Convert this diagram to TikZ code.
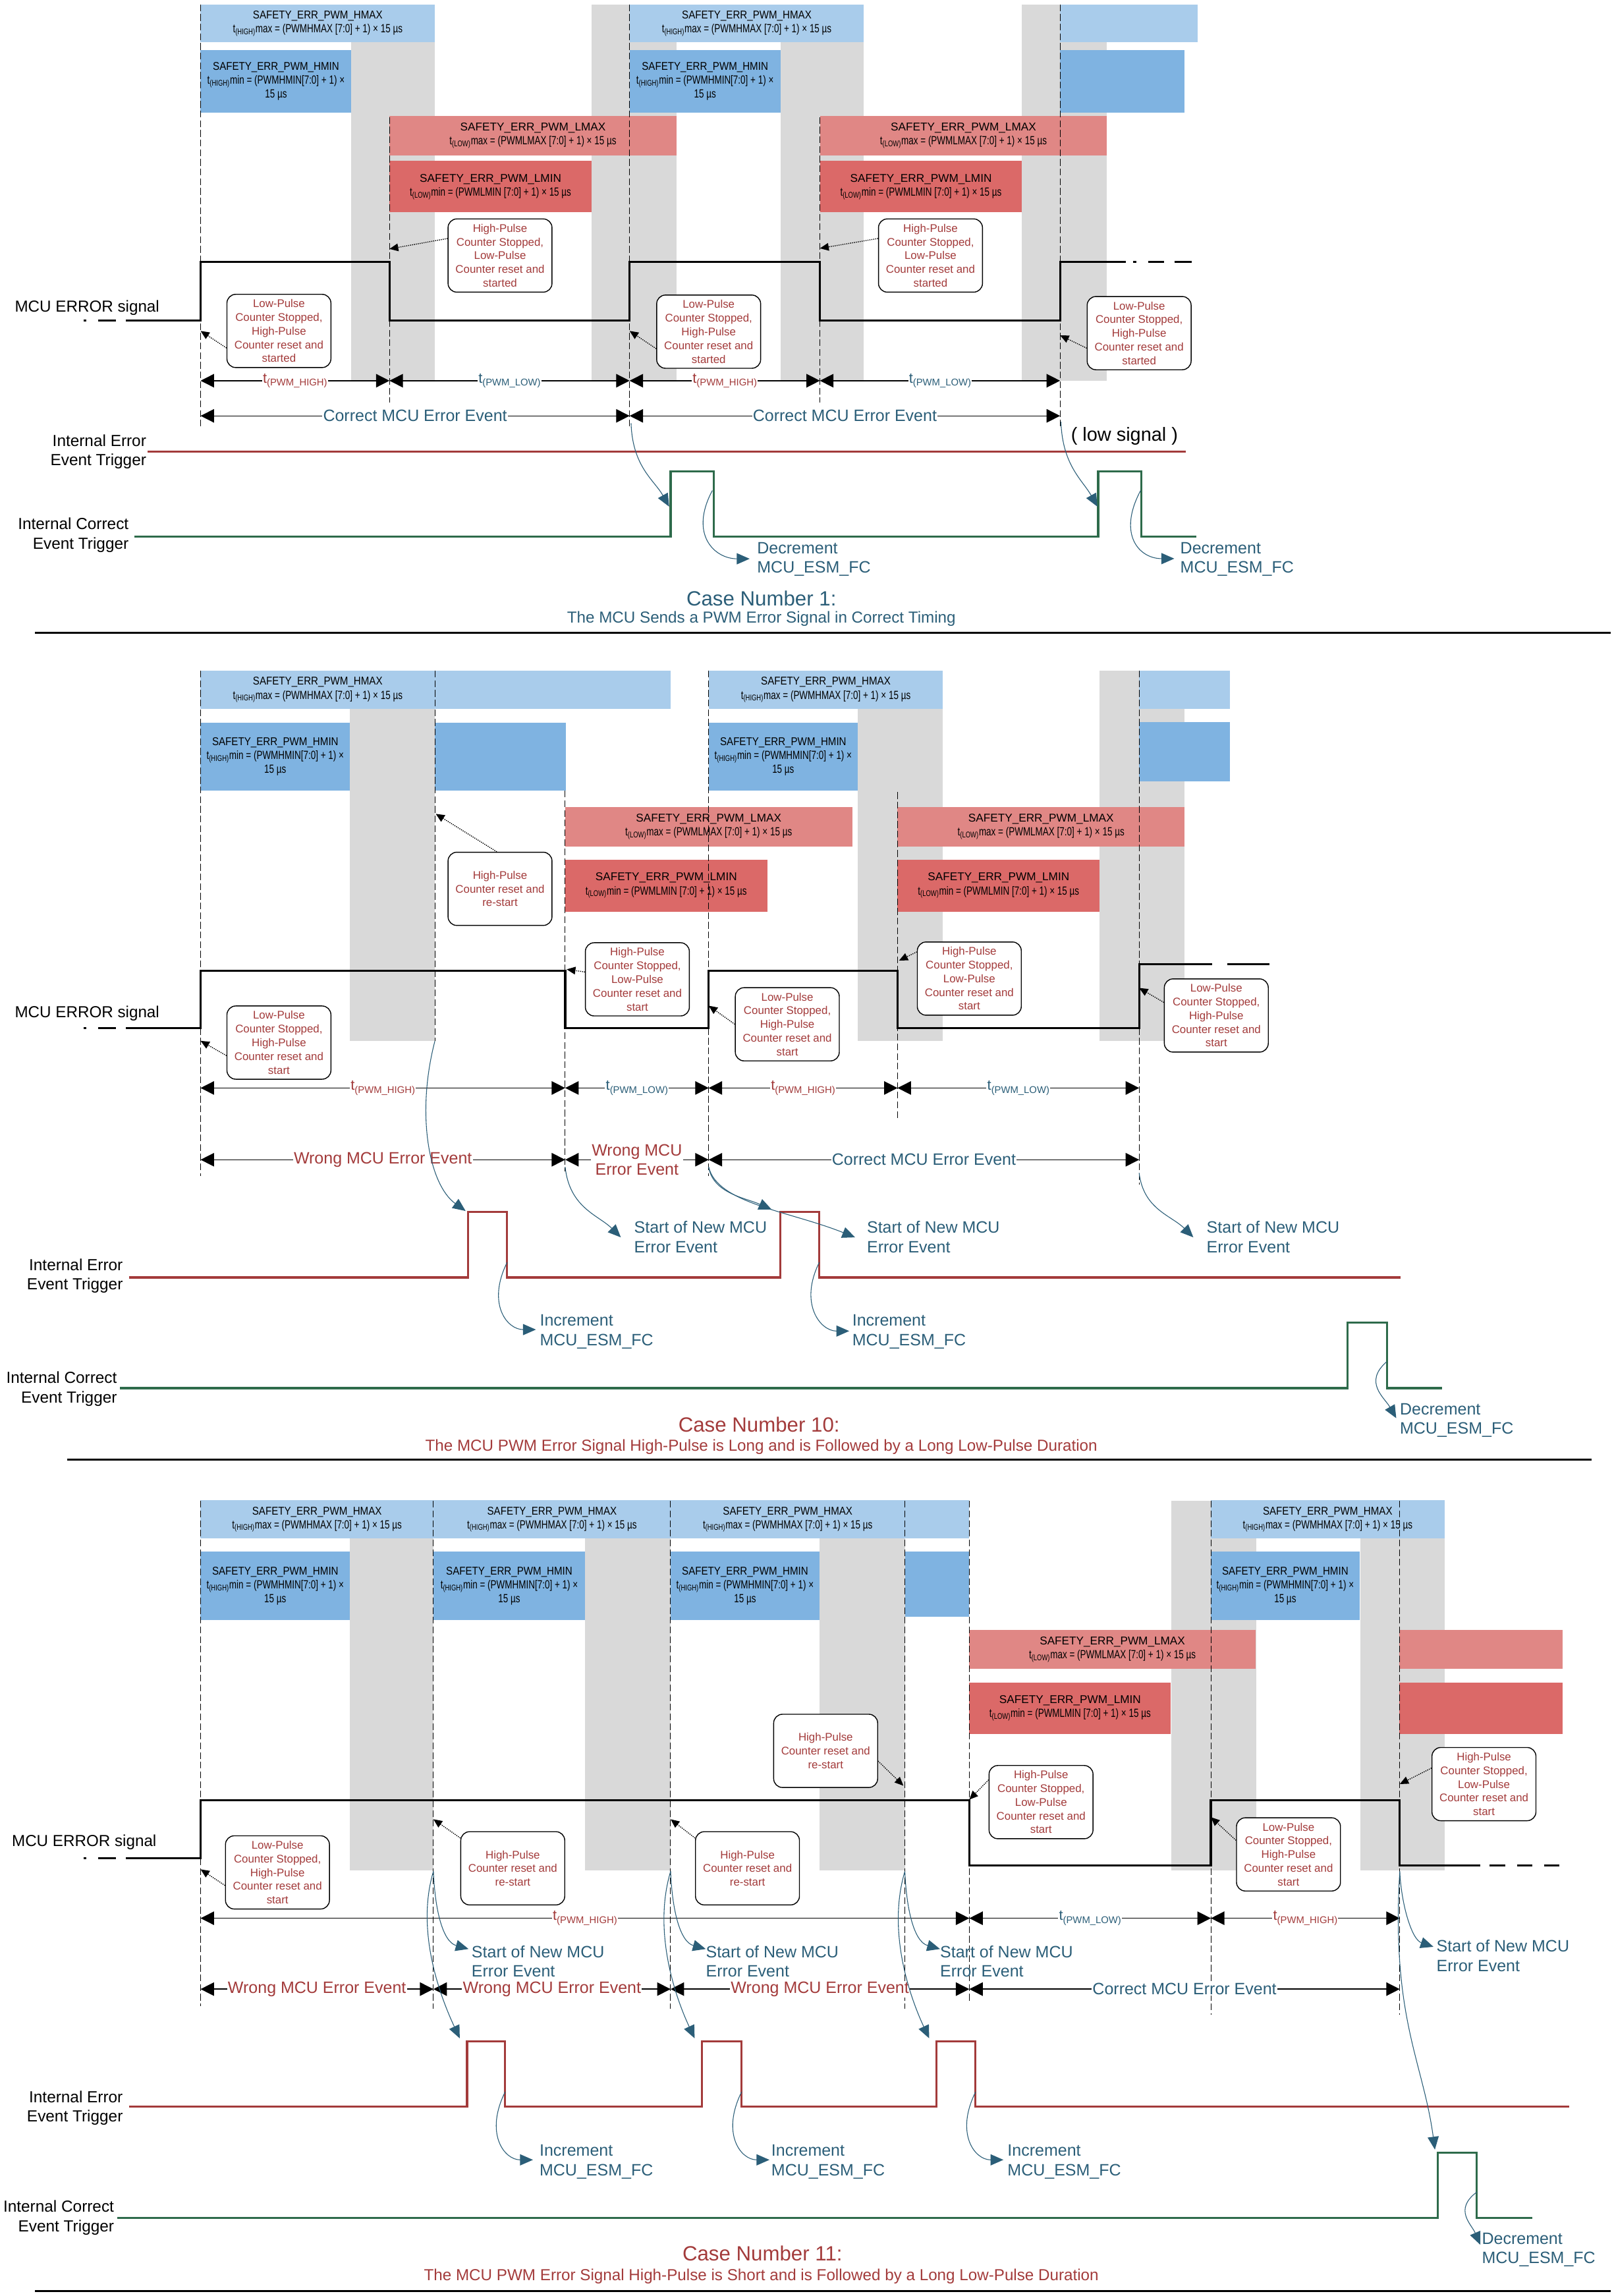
\documentclass[tikz,border=0pt]{standalone}
\usepackage{fontspec}
\setmainfont{Liberation Sans}
\newfontfamily\nrwfont{Liberation Sans}[FakeStretch=0.88]
\newfontfamily\cndfont{Liberation Sans}[FakeStretch=0.75]
\usetikzlibrary{arrows.meta}

\definecolor{hmaxc}{HTML}{A9CCEB}
\definecolor{hminc}{HTML}{7FB3E1}
\definecolor{lmaxc}{HTML}{E08785}
\definecolor{lminc}{HTML}{DB6968}
\definecolor{bandc}{HTML}{D9D9D9}
\definecolor{errc}{HTML}{A33B3B}
\definecolor{okc}{HTML}{2B5E78}
\definecolor{trigc}{HTML}{2E6B4B}

% register boxes: style, x1, y1, x2, y2, name, text
\newcommand\regbox[7]{\node[#1, minimum width={(#4-#2)*0.5mm}, minimum height={(#5-#3)*0.5mm}] (#6) at ({(#2+#4)/2},{(#3+#5)/2}) {#7};}
\newcommand\spanar[6]{\coordinate (#6a) at (#2,#1); \coordinate (#6b) at (#3,#1);
  \draw[dimar] (#6a) -- (#6b) node[dimlbl, text=#4, midway] (#6) {#5};}

\newcommand\hmaxtxt{{\nrwfont SAFETY\_ERR\_PWM\_HMAX}\\{\cndfont\fontsize{11.5}{13.5}\selectfont t\textsubscript{(HIGH)}max = (PWMHMAX [7:0] + 1) × 15 µs}}
\newcommand\hmintxt{{\nrwfont SAFETY\_ERR\_PWM\_HMIN}\\{\cndfont\fontsize{11.5}{13.5}\selectfont t\textsubscript{(HIGH)}min = (PWMHMIN[7:0] + 1) ×}\\{\cndfont\fontsize{11.5}{13.5}\selectfont 15 µs}}
\newcommand\lmaxtxt{SAFETY\_ERR\_PWM\_LMAX\\{\cndfont\fontsize{11.5}{13.5}\selectfont t\textsubscript{(LOW)}max = (PWMLMAX [7:0] + 1) × 15 µs}}
\newcommand\lmintxt{SAFETY\_ERR\_PWM\_LMIN\\{\cndfont\fontsize{11.5}{13.5}\selectfont t\textsubscript{(LOW)}min = (PWMLMIN [7:0] + 1) × 15 µs}}
\newcommand\lpcall[1]{Low-Pulse\\Counter Stopped,\\High-Pulse\\Counter reset and\\#1}
\newcommand\hpcall[1]{High-Pulse\\Counter Stopped,\\Low-Pulse\\Counter reset and\\#1}
\newcommand\rscall{High-Pulse\\Counter reset and\\re-start}
\newcommand\tpwm[1]{{\fontsize{14}{14}\selectfont t}\raisebox{-0.35ex}{\fontsize{9.5}{10}\selectfont (PWM\_#1)}}

\begin{document}
\begin{tikzpicture}[x=0.5mm,y=-0.5mm,
 hmx/.style={fill=hmaxc,inner sep=0pt,outer sep=0pt,align=center,font=\fontsize{11}{13.5}\selectfont},
 hmn/.style={hmx,fill=hminc},
 lmx/.style={hmx,fill=lmaxc},
 lmn/.style={hmx,fill=lminc},
 band/.style={fill=bandc},
 tmark/.style={line width=0.7pt,dash pattern=on 2.3mm off 1mm},
 sig/.style={line width=2.1pt},
 errline/.style={errc,line width=2pt},
 okline/.style={trigc,line width=2pt},
 call/.style={draw,line width=0.9pt,rounded corners=3mm,fill=white,text=errc,align=center,
   minimum width=35.5mm,minimum height=25mm,inner sep=1pt,font=\fontsize{10.8}{13.3}\selectfont},
 callar/.style={densely dotted,line width=0.9pt,-{Triangle[length=3mm,width=2.6mm]}},
 dimar/.style={line width=0.9pt,{Triangle[length=4.6mm,width=4.6mm]}-{Triangle[length=4.6mm,width=4.6mm]}},
 dimlbl/.style={fill=white,inner sep=0.8pt,align=center,font=\fontsize{16}{18.5}\selectfont},
 evar/.style={okc,line width=0.7pt,-{Triangle[length=4.4mm,width=3.8mm]}},
 evtxt/.style={okc,align=left,anchor=west,inner sep=0pt,font=\fontsize{16}{19}\selectfont},
 sidelbl/.style={align=right,anchor=east,inner sep=0pt,font=\fontsize{15.6}{18.8}\selectfont},
 caption/.style={font=\fontsize{20}{24}\selectfont},
 subcap/.style={font=\fontsize{15.5}{18}\selectfont},
 sepline/.style={line width=2pt}]
\useasboundingbox (0,0) rectangle (1102,1568);

% grey windows
\foreach \a/\b/\t/\u in {240/297/3/260, 404/462/3/260, 533/590/3/260, 698/756/3/260,
  239/297/458/711, 586/644/458/711, 751/809/458/711,
  239/296/1025/1277.5, 399.6/458/1025/1277.5, 559.7/618/1025/1277.5, 800/858/1025/1277.5, 929/986.5/1025/1277.5}
  \fill[band] (\a,\t) rectangle (\b,\u);

% ---------------- case 1 ----------------
\regbox{hmx}{137}{3}{297}{29}{b1hx}{\hmaxtxt}
\regbox{hmn}{137}{34}{240}{77}{b1hn}{\hmintxt}
\regbox{lmx}{266}{79}{462}{106}{b1lx}{\lmaxtxt}
\regbox{lmn}{266}{110}{404}{145}{b1ln}{\lmintxt}
\regbox{hmx}{430}{3}{590}{29}{b2hx}{\hmaxtxt}
\regbox{hmn}{430}{34}{533}{77}{b2hn}{\hmintxt}
\regbox{lmx}{560}{79}{756}{106}{b2lx}{\lmaxtxt}
\regbox{lmn}{560}{110}{698}{145}{b2ln}{\lmintxt}
\regbox{hmx}{724}{3}{818}{29}{b3hx}{}
\regbox{hmn}{724}{34}{809}{77}{b3hn}{}

\foreach \x/\t/\u in {137/3/291, 266/80/275, 430/3/291, 560/80/275, 724/3/291}
  \draw[tmark] (\x,\t) -- (\x,\u);

\draw[sig,dash pattern=on 1mm off 4mm on 6mm off 3.5mm] (57,219) -- (86,219);
\draw[sig] (86,219) -- (137,219) -- (137,179) -- (266,179) -- (266,219) -- (430,219) -- (430,179)
  -- (560,179) -- (560,219) -- (724,219) -- (724,179) -- (769,179);
\draw[sig,dash pattern=on 1mm off 4mm on 5.5mm off 3.5mm on 6mm off 10mm] (774,179) -- (814,179);

\draw[errline] (101,308.5) -- (810,308.5);
\draw[okline] (92,366.5) -- (458,366.5) -- (458,322) -- (487.6,322) -- (487.6,366.5) -- (750,366.5)
  -- (750,322) -- (779.6,322) -- (779.6,366.5) -- (817,366.5);

\spanar{260}{137}{266}{errc}{\tpwm{HIGH}}{t1a}
\spanar{260}{266}{430}{okc}{\tpwm{LOW}}{t1b}
\spanar{260}{430}{560}{errc}{\tpwm{HIGH}}{t1c}
\spanar{260}{560}{724}{okc}{\tpwm{LOW}}{t1d}
\spanar{284}{137}{430}{okc}{Correct MCU Error Event}{v1a}
\spanar{284}{430}{724}{okc}{Correct MCU Error Event}{v1b}

\node[call] (c1a) at (190.5,226) {\lpcall{started}};
\node[call] (c1b) at (341.5,174.5) {\hpcall{started}};
\node[call] (c1c) at (484,226.5) {\lpcall{started}};
\node[call] (c1d) at (635.5,174.5) {\hpcall{started}};
\node[call] (c1e) at (778,227.5) {\lpcall{started}};
\coordinate (k1a) at (137,226); \coordinate (k1b) at (266,170); \coordinate (k1c) at (430,226);
\coordinate (k1d) at (560,169.6); \coordinate (k1e) at (724,229);
\draw[callar] (c1a.198) -- (k1a);
\draw[callar] (c1b.162) -- (k1b);
\draw[callar] (c1c.198) -- (k1c);
\draw[callar] (c1d.162) -- (k1d);
\draw[callar] (c1e.196) -- (k1e);

\node[anchor=west,inner sep=0pt,font=\fontsize{15.5}{18}\selectfont] (m1) at (10,210) {MCU ERROR signal};
\node[sidelbl] (ie1) at (100,308.5) {Internal Error\\Event Trigger};
\node[sidelbl] (ic1) at (88,365.5) {Internal Correct\\Event Trigger};
\node[inner sep=0pt,font=\fontsize{18.5}{20}\selectfont] (low1) at (768,298) {( low signal )};
\node[evtxt] (d1a) at (517,382) {Decrement\\MCU\_ESM\_FC};
\node[evtxt] (d1b) at (806,382) {Decrement\\MCU\_ESM\_FC};

\coordinate (s1a) at (431,289); \coordinate (p1a) at (457,346);
\coordinate (s1b) at (724.6,288); \coordinate (p1b) at (749.5,346);
\coordinate (f1a) at (486.5,335); \coordinate (q1a) at (512,381.6);
\coordinate (f1b) at (779,335); \coordinate (q1b) at (802,381.5);
\draw[evar] (s1a) .. controls +(1,30) and +(-10,-18) .. (p1a);
\draw[evar] (s1b) .. controls +(1,30) and +(-10,-18) .. (p1b);
\draw[evar] (f1a) .. controls +(-16,30) and +(-24,0) .. (q1a);
\draw[evar] (f1b) .. controls +(-16,30) and +(-24,0) .. (q1b);

\node[caption,text=okc] (h1) at (520,408.5) {Case Number 1:};
\node[subcap,text=okc] (sh1) at (520,422.5) {The MCU Sends a PWM Error Signal in Correct Timing};
\draw[sepline] (24,432) -- (1100,432);

% ---------------- case 10 ----------------
\regbox{hmx}{137}{458}{297}{484.3}{b4hx}{\hmaxtxt}
\regbox{hmx}{297}{458}{458}{484.3}{b4hc}{}
\regbox{hmn}{137}{493.5}{239}{540}{b4hn}{\hmintxt}
\regbox{hmn}{297}{493.5}{386.7}{540}{b4nc}{}
\regbox{lmx}{386}{551}{582}{578}{b4lx}{\lmaxtxt}
\regbox{lmn}{386}{587}{524}{622.6}{b4ln}{\lmintxt}
\regbox{hmx}{484}{458}{644}{484.3}{b5hx}{\hmaxtxt}
\regbox{hmn}{484}{493.5}{585.8}{540}{b5hn}{\hmintxt}
\regbox{lmx}{613}{551}{809}{578}{b5lx}{\lmaxtxt}
\regbox{lmn}{613}{587}{751}{622.6}{b5ln}{\lmintxt}
\regbox{hmx}{778}{458}{840}{484.3}{b6hx}{}
\regbox{hmn}{778}{493}{840}{533.7}{b6hn}{}

\foreach \x/\t/\u in {137/458/803, 297/458/711, 386/540/800, 484/458/803, 613/541/764, 778/458/809}
  \draw[tmark] (\x,\t) -- (\x,\u);

\draw[sig,dash pattern=on 1mm off 4mm on 6mm off 3.5mm] (57,702) -- (86,702);
\draw[sig] (86,702) -- (137,702) -- (137,663) -- (386,663) -- (386,702) -- (484,702) -- (484,663)
  -- (613,663) -- (613,702) -- (778,702) -- (778,658.6) -- (828,658.6);
\draw[sig] (838,658.6) -- (867,658.6);

\draw[errline] (88,872.4) -- (319.6,872.4) -- (319.6,827.6) -- (346.4,827.6) -- (346.4,872.4)
  -- (532.8,872.4) -- (532.8,827.6) -- (559.6,827.6) -- (559.6,872.4) -- (956.5,872.4);
\draw[okline] (82,948) -- (920.4,948) -- (920.4,903.3) -- (947.2,903.3) -- (947.2,948) -- (985,948);

\spanar{743}{137}{386}{errc}{\tpwm{HIGH}}{t4a}
\spanar{743}{386}{484}{okc}{\tpwm{LOW}}{t4b}
\spanar{743}{484}{613}{errc}{\tpwm{HIGH}}{t4c}
\spanar{743}{613}{778}{okc}{\tpwm{LOW}}{t4d}
\spanar{792}{137}{386}{errc}{Wrong MCU Error Event}{v4a}
\spanar{792}{386}{484}{errc}{Wrong MCU\\Error Event}{v4b}
\spanar{792}{484}{778}{okc}{Correct MCU Error Event}{v4c}

\node[call] (c4a) at (190.5,712) {\lpcall{start}};
\node[call] (c4b) at (341.5,607) {\rscall};
\node[call] (c4c) at (435.3,668.8) {\hpcall{start}};
\node[call] (c4d) at (537.7,699.5) {\lpcall{start}};
\node[call] (c4e) at (662,668.3) {\hpcall{start}};
\node[call] (c4f) at (830.7,693.5) {\lpcall{start}};
\coordinate (k4a) at (137,710.8); \coordinate (k4b) at (297.6,555.8); \coordinate (k4c) at (387,662);
\coordinate (k4d) at (484,686.8); \coordinate (k4e) at (614,656); \coordinate (k4f) at (778,674.7);
\draw[callar] (c4a.194) -- (k4a);
\draw[callar] (c4b.95) -- (k4b);
\draw[callar] (c4c.172) -- (k4c);
\draw[callar] (c4d.180) -- (k4d);
\draw[callar] (c4e.153) -- (k4e);
\draw[callar] (c4f.166) -- (k4f);

\node[anchor=west,inner sep=0pt,font=\fontsize{15.5}{18}\selectfont] (m4) at (10,692) {MCU ERROR signal};
\node[sidelbl] (ie4) at (84,871.5) {Internal Error\\Event Trigger};
\node[sidelbl] (ic4) at (80,948.5) {Internal Correct\\Event Trigger};
\node[evtxt] (n4a) at (433,844.7) {Start of New MCU\\Error Event};
\node[evtxt] (n4b) at (592,844.7) {Start of New MCU\\Error Event};
\node[evtxt] (n4c) at (824,844.7) {Start of New MCU\\Error Event};
\node[evtxt] (i4a) at (368.6,909.5) {Increment\\MCU\_ESM\_FC};
\node[evtxt] (i4b) at (582,909.5) {Increment\\MCU\_ESM\_FC};
\node[evtxt] (d4a) at (956,970) {Decrement\\MCU\_ESM\_FC};

\coordinate (s4a) at (297,711); \coordinate (p4a) at (318,827);
\coordinate (f4a) at (346.4,862); \coordinate (q4a) at (366,908);
\coordinate (s4b) at (386,797); \coordinate (r4a) at (424,845);
\coordinate (s4c) at (484,797); \coordinate (p4b) at (527,826); \coordinate (r4b) at (584,845);
\coordinate (f4b) at (559.6,862); \coordinate (q4b) at (580,909);
\coordinate (s4d) at (778,801); \coordinate (r4c) at (815,845);
\coordinate (f4c) at (947,930); \coordinate (q4c) at (953.6,968.5);
\draw[evar] (s4a) .. controls +(-13,50) and +(-25,-18) .. (p4a);
\draw[evar] (f4a) .. controls +(-14,28) and +(-20,0) .. (q4a);
\draw[evar] (s4b) .. controls +(3,28) and +(-15,-15) .. (r4a);
\draw[evar] (s4c) .. controls +(3,18) and +(-18,-8) .. (p4b);
\draw[evar] (s4c) .. controls +(6,25) and +(-45,-18) .. (r4b);
\draw[evar] (f4b) .. controls +(-14,28) and +(-20,0) .. (q4b);
\draw[evar] (s4d) .. controls +(3,25) and +(-15,-15) .. (r4c);
\draw[evar] (f4c) .. controls +(-16,14) and +(-8,-14) .. (q4c);

\node[caption,text=errc] (h4) at (518.4,973) {Case Number 10:};
\node[subcap,text=errc] (sh4) at (520,988) {The MCU PWM Error Signal High-Pulse is Long and is Followed by a Long Low-Pulse Duration};
\draw[sepline] (46,997) -- (1087,997);

% ---------------- case 11 ----------------
\regbox{hmx}{137}{1024.6}{296}{1050.7}{b7hx}{\hmaxtxt}
\regbox{hmx}{296}{1024.6}{458}{1050.7}{b8hx}{\hmaxtxt}
\regbox{hmx}{458}{1024.6}{618}{1050.7}{b9hx}{\hmaxtxt}
\regbox{hmx}{618}{1024.6}{662}{1050.7}{b10hx}{}
\regbox{hmn}{137}{1059.7}{239}{1106.3}{b7hn}{\hmintxt}
\regbox{hmn}{296}{1059.7}{399.6}{1106.3}{b8hn}{\hmintxt}
\regbox{hmn}{458}{1059.7}{559.7}{1106.3}{b9hn}{\hmintxt}
\regbox{hmn}{618}{1059.7}{662}{1104}{b10hn}{}
\regbox{lmx}{662}{1113}{857.5}{1139.7}{b10lx}{\lmaxtxt}
\regbox{lmn}{662}{1149}{799.7}{1184}{b10ln}{\lmintxt}
\regbox{hmx}{827}{1024.6}{986.5}{1050.7}{b11hx}{\hmaxtxt}
\regbox{hmn}{827}{1059.7}{928.5}{1106.3}{b11hn}{\hmintxt}
\regbox{lmx}{955.6}{1113}{1067}{1139.7}{b12lx}{}
\regbox{lmn}{955.6}{1149}{1067}{1184}{b12ln}{}

\foreach \x/\t/\u in {137/1025/1370, 296/1025/1372, 458/1025/1372, 618/1025/1372, 662/1025/1368, 827/1025/1376, 956/1025/1376}
  \draw[tmark] (\x,\t) -- (\x,\u);

\draw[sig,dash pattern=on 1mm off 4mm on 6mm off 3.5mm] (57,1269) -- (86,1269);
\draw[sig] (86,1269) -- (137,1269) -- (137,1229.5) -- (662,1229.5) -- (662,1274) -- (827,1274)
  -- (827,1229.5) -- (956,1229.5) -- (956,1274) -- (1011,1274);
\draw[sig,dash pattern=on 5.25mm off 4mm] (1017.5,1274) -- (1067,1274);

\draw[errline] (88,1438.7) -- (319,1438.7) -- (319,1394) -- (345,1394) -- (345,1438.7) -- (479.4,1438.7)
  -- (479.4,1394) -- (506.5,1394) -- (506.5,1438.7) -- (639.6,1438.7) -- (639.6,1394) -- (666.3,1394)
  -- (666.3,1438.7) -- (1071.5,1438.7);
\draw[okline] (80,1514.7) -- (982,1514.7) -- (982,1470) -- (1008.6,1470) -- (1008.6,1514.7) -- (1046.7,1514.7);

\spanar{1310}{137}{662}{errc}{\tpwm{HIGH}}{t7a}
\spanar{1310}{662}{827}{okc}{\tpwm{LOW}}{t7b}
\spanar{1310}{827}{956}{errc}{\tpwm{HIGH}}{t7c}
\spanar{1358.4}{137}{296}{errc}{Wrong MCU Error Event}{v7a}
\spanar{1358.4}{296}{458}{errc}{Wrong MCU Error Event}{v7b}
\spanar{1358.4}{458}{662}{errc}{Wrong MCU Error Event}{v7c}
\spanar{1358.4}{662}{956}{okc}{Correct MCU Error Event}{v7d}

\node[call] (c7a) at (189.5,1278.7) {\lpcall{start}};
\node[call] (c7b) at (350.2,1275.9) {\rscall};
\node[call] (c7c) at (510.5,1275.9) {\rscall};
\node[call] (c7d) at (563.9,1195.7) {\rscall};
\node[call] (c7e) at (711,1230.7) {\hpcall{start}};
\node[call] (c7f) at (880,1266.4) {\lpcall{start}};
\node[call] (c7g) at (1013.5,1218.4) {\hpcall{start}};
\coordinate (k7a) at (137,1276.6); \coordinate (k7b) at (296,1242.4); \coordinate (k7c) at (458,1242.4);
\coordinate (k7d) at (617,1219.5); \coordinate (k7e) at (662,1229); \coordinate (k7f) at (827,1241);
\coordinate (k7g) at (956,1218.4);
\draw[callar] (c7a.194) -- (k7a);
\draw[callar] (c7b.150) -- (k7b);
\draw[callar] (c7c.150) -- (k7c);
\draw[callar] (c7d.349) -- (k7d);
\draw[callar] (c7e.157) -- (k7e);
\draw[callar] (c7f.165) -- (k7f);
\draw[callar] (c7g.163) -- (k7g);

\node[anchor=west,inner sep=0pt,font=\fontsize{15.5}{18}\selectfont] (m7) at (8,1258) {MCU ERROR signal};
\node[sidelbl] (ie7) at (84,1439.5) {Internal Error\\Event Trigger};
\node[sidelbl] (ic7) at (78,1514.5) {Internal Correct\\Event Trigger};
\node[evtxt] (n7a) at (322,1339.5) {Start of New MCU\\Error Event};
\node[evtxt] (n7b) at (482,1339.5) {Start of New MCU\\Error Event};
\node[evtxt] (n7c) at (642,1339.5) {Start of New MCU\\Error Event};
\node[evtxt] (n7d) at (981,1335.5) {Start of New MCU\\Error Event};
\node[evtxt] (i7a) at (368.4,1476.3) {Increment\\MCU\_ESM\_FC};
\node[evtxt] (i7b) at (526.7,1476.3) {Increment\\MCU\_ESM\_FC};
\node[evtxt] (i7c) at (688,1476.3) {Increment\\MCU\_ESM\_FC};
\node[evtxt] (d7a) at (1012,1536.4) {Decrement\\MCU\_ESM\_FC};

\foreach \x/\p/\n in {296/319/a, 458/479.4/b, 618/639.6/c} {
  \coordinate (s7\n) at (\x,1278);
  \coordinate (r7\n) at (\x+24,1331);
  \coordinate (p7\n) at (\p-5,1392);
  \draw[evar] (s7\n) .. controls +(1,25) and +(-18,-5) .. (r7\n);
  \draw[evar] (s7\n) .. controls +(-12,40) and +(-14,-30) .. (p7\n);
}
\foreach \f/\n in {345/a, 506.5/b, 666.3/c} {
  \coordinate (f7\n) at (\f,1428.6);
  \coordinate (q7\n) at (\f+19,1475);
  \draw[evar] (f7\n) .. controls +(-14,28) and +(-20,0) .. (q7\n);
}
\coordinate (s7d) at (956,1278); \coordinate (r7d) at (979,1329.5); \coordinate (p7d) at (980,1468);
\coordinate (f7d) at (1008.6,1497); \coordinate (q7d) at (1011,1533);
\draw[evar] (s7d) .. controls +(1,22) and +(-15,-5) .. (r7d);
\draw[evar] (s7d) .. controls +(-6,100) and +(-8,-60) .. (p7d);
\draw[evar] (f7d) .. controls +(-16,12) and +(-6,-14) .. (q7d);

\node[caption,text=errc] (h7) at (520.7,1539) {Case Number 11:};
\node[subcap,text=errc] (sh7) at (520,1554.5) {The MCU PWM Error Signal High-Pulse is Short and is Followed by a Long Low-Pulse Duration};
\draw[sepline] (24,1564.5) -- (1100,1564.5);
\end{tikzpicture}
\end{document}
